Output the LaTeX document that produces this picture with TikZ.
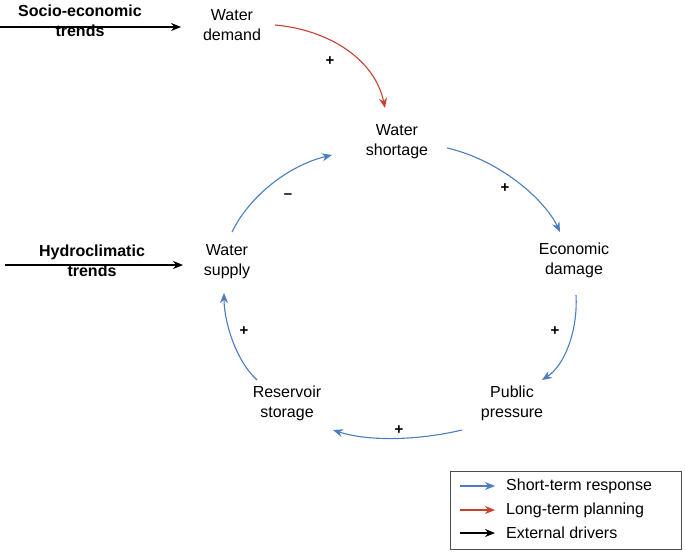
\documentclass[tikz,border=0pt]{standalone}
\usepackage{fontspec}
\setmainfont{Liberation Sans}
\usetikzlibrary{arrows.meta}
\definecolor{bl}{RGB}{74,126,193}
\definecolor{rd}{RGB}{200,65,46}
\begin{document}
\begin{tikzpicture}[x=1pt,y=-1pt,
 lab/.style={font=\fontsize{16}{20}\selectfont,align=center,inner sep=1pt},
 bld/.style={lab,font=\fontsize{16}{20}\selectfont\bfseries},
 sgn/.style={font=\fontsize{15}{16}\selectfont\bfseries,inner sep=0pt},
 ar/.style={-{Stealth[length=10pt,width=8pt]},line width=1.1pt},
 blu/.style={ar,draw=bl}, red/.style={ar,draw=rd}, blk/.style={ar,draw=black}]
\useasboundingbox (0,0) rectangle (685,554);
\node[bld] (se) at (80,21) {Socio-economic\\trends};
\node[lab] (wd) at (232,25) {Water\\demand};
\node[lab] (ws) at (397,142) {Water\\shortage};
\node[lab] (ed) at (574,260) {Economic\\damage};
\node[lab] (pp) at (512,403) {Public\\pressure};
\node[lab] (rs) at (287,403) {Reservoir\\storage};
\node[lab] (sp) at (227,262) {Water\\supply};
\node[bld] (hc) at (92,261) {Hydroclimatic\\trends};
\coordinate (se0) at (0,27); \coordinate (hc0) at (5,265);
\draw[blk] (se0) -- (181,27);
\draw[blk] (hc0) -- (183,265);
\coordinate (p1) at (275,25);
\draw[red] (p1) .. controls (330,30) and (375,60) .. (385,108);
\coordinate (p2) at (447,148);
\draw[blu] (p2) .. controls (500,160) and (545,200) .. (560,232);
\coordinate (p3) at (576,295);
\draw[blu] (p3) .. controls (578,330) and (565,365) .. (542,380);
\coordinate (p4) at (462,430);
\draw[blu] (p4) .. controls (420,440) and (370,442) .. (333,430);
\coordinate (p5) at (257,380);
\draw[blu] (p5) .. controls (235,360) and (224,320) .. (224,293);
\coordinate (p6) at (232,232);
\draw[blu] (p6) .. controls (250,195) and (290,165) .. (332,155);
\node[sgn] at (330,61) {+};
\node[sgn] at (505,188) {+};
\node[sgn] at (555,331) {+};
\node[sgn] at (399,430) {+};
\node[sgn] at (244,331) {+};
\node[sgn] at (288,196) {\textendash};
\node[draw=black!70,line width=0.6pt,minimum width=231pt,minimum height=78pt,anchor=north west] (lg) at (450,471) {};
\coordinate (a1) at (460,486); \coordinate (a2) at (460,510); \coordinate (a3) at (460,533);
\draw[blu] (a1) -- ++(35,0); \draw[red] (a2) -- ++(35,0); \draw[blk] (a3) -- ++(35,0);
\node[lab,anchor=west] (l1) at (505,486) {Short-term response};
\node[lab,anchor=west] (l2) at (505,510) {Long-term planning};
\node[lab,anchor=west] (l3) at (505,533) {External drivers};
\end{tikzpicture}
\end{document}
